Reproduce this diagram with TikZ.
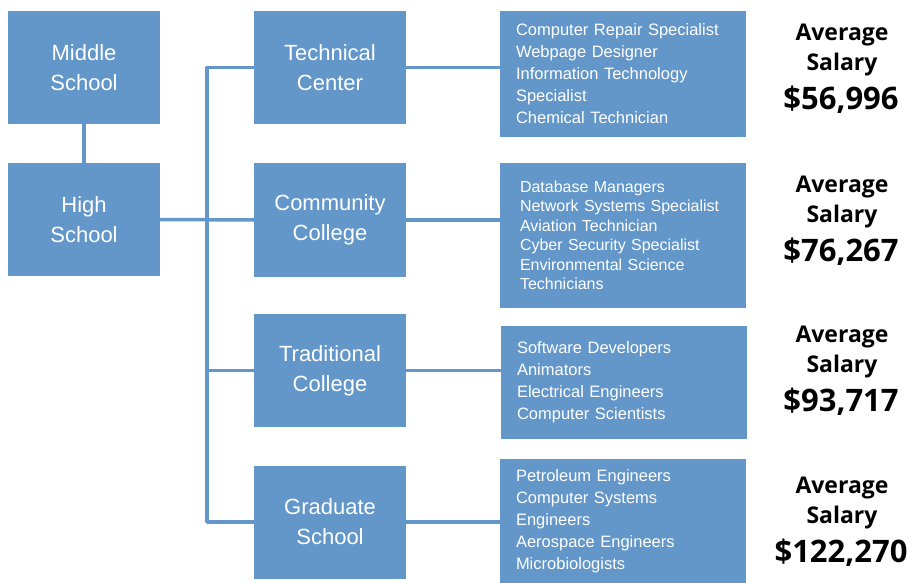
\documentclass[tikz,border=0pt]{standalone}
\usepackage{fontspec}
\setmainfont{Liberation Sans}
\newfontfamily\salaryfont{Open Sans}
\definecolor{pathblue}{RGB}{99,150,201}
\tikzset{
	schoolbox/.style={fill=pathblue, text=white, minimum width=152pt, minimum height=113pt,
		align=center, inner sep=0pt, font=\fontsize{22}{30}\selectfont},
	jobbox/.style={fill=pathblue, text=white, minimum width=246pt, inner xsep=16pt, inner ysep=0pt,
		text width=214pt, align=left, font=\fontsize{16.5}{22}\selectfont},
	link/.style={draw=pathblue, line width=3.5pt},
	salary/.style={font=\salaryfont\bfseries\fontsize{23}{28}\selectfont, inner sep=0pt},
	amount/.style={font=\salaryfont\bfseries\fontsize{31}{34}\selectfont, inner sep=0pt}
}
\begin{document}
\begin{tikzpicture}[x=1pt, y=-1pt, line join=round]
	\useasboundingbox (0,0) rectangle (908,583);
	% school stages
	\node[schoolbox] (middle) at (84,67.5) {Middle\\School};
	\node[schoolbox] (high) at (84,219.5) {High\\School};
	\node[schoolbox] (tech) at (330,67.5) {Technical\\Center};
	\node[schoolbox] (community) at (330,220) {Community\\College};
	\node[schoolbox] (trad) at (330,370.5) {Traditional\\College};
	\node[schoolbox] (grad) at (330,522) {Graduate\\School};
	% careers
	\node[jobbox, minimum height=126pt] (job1) at (623,74) {Computer Repair Specialist\\Webpage Designer\\Information Technology\\Specialist\\Chemical Technician};
	\node[jobbox, minimum height=145pt, inner xsep=20pt, text width=206pt,
		font=\fontsize{16}{19.5}\selectfont] (job2) at (623,235.5) {Database Managers\\Network Systems Specialist\\Aviation Technician\\Cyber Security Specialist\\Environmental Science\\Technicians\\[-6pt]};
	\node[jobbox, minimum height=113pt] (job3) at (624,382.5) {Software Developers\\Animators\\Electrical Engineers\\Computer Scientists};
	\node[jobbox, minimum height=124pt] (job4) at (623,521) {Petroleum Engineers\\Computer Systems\\Engineers\\Aerospace Engineers\\Microbiologists};
	% connectors
	\coordinate (trunk) at (207,0);
	\draw[link] (middle) -- (high);
	\draw[link] (tech.west) -| (trunk |- grad.west) -- (grad.west);
	\draw[link] (high.east) -- (community.west);
	\draw[link] (trunk |- trad.west) -- (trad.west);
	\draw[link] (tech.east) -- (tech.east -| job1.west);
	\draw[link] (community.east) -- (community.east -| job2.west);
	\draw[link] (trad.east) -- (trad.east -| job3.west);
	\draw[link] (grad.east) -- (grad.east -| job4.west);
	% salaries
	\foreach \y/\pay [count=\i] in {32/{\$56,996}, 184/{\$76,267}, 334/{\$93,717}, 485/{\$122,270}}{
		\node[salary] (avg\i) at (842,\y+3) {Average};
		\node[salary] (sal\i) at (842,\y+33) {Salary};
		\node[amount] (pay\i) at (841,\y+68) {\pay};
	}
\end{tikzpicture}
\end{document}
